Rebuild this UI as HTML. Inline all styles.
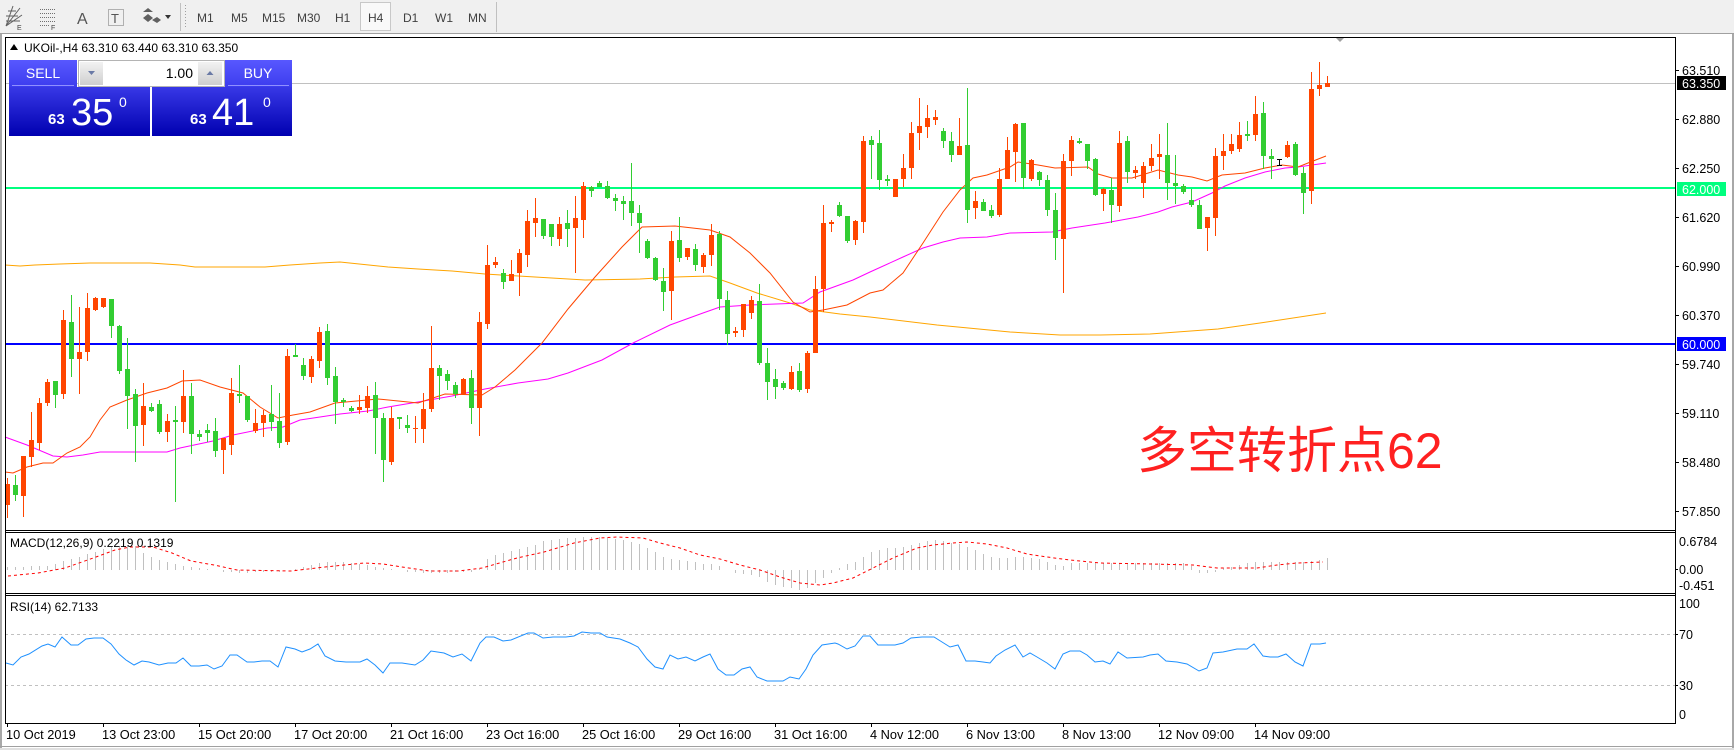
<!DOCTYPE html>
<html><head><meta charset="utf-8">
<style>
html,body{margin:0;padding:0;background:#fff;width:1734px;height:750px;overflow:hidden}
svg{display:block}
text{font-family:"Liberation Sans","Noto Sans CJK SC",sans-serif}
</style></head>
<body>
<svg width="1734" height="750" viewBox="0 0 1734 750" xmlns="http://www.w3.org/2000/svg">
<defs>
<linearGradient id="pb" x1="0" y1="0" x2="0" y2="1"><stop offset="0" stop-color="#3838e6"/><stop offset="1" stop-color="#0000b0"/></linearGradient>
<linearGradient id="tb" x1="0" y1="0" x2="0" y2="1"><stop offset="0" stop-color="#5858ff"/><stop offset="1" stop-color="#3c3cee"/></linearGradient>
<linearGradient id="sp" x1="0" y1="0" x2="0" y2="1"><stop offset="0" stop-color="#f2f2f2"/><stop offset="1" stop-color="#cfcfcf"/></linearGradient>
</defs>

<!-- toolbar -->
<rect x="0" y="0" width="1734" height="33" fill="#f0f0f0"/>
<rect x="0" y="33" width="1734" height="1" fill="#a0a0a0"/>
<g stroke="#606060" stroke-width="1" fill="none">
<path d="M6 26L20 8M6 26L22 15M6 26L13 6M6 21H20M6 16H18M8 11H16"/>
</g>
<text x="17" y="30" font-size="7" fill="#404040">E</text>
<g stroke="#707070" stroke-width="1" stroke-dasharray="1,1">
<path d="M40 9.5H56M40 13.5H56M40 17.5H56M40 21.5H56M40 25.5H50"/>
</g>
<text x="51" y="30" font-size="7" fill="#404040">F</text>
<text x="77" y="24" font-size="16" fill="#555">A</text>
<rect x="108.5" y="9.5" width="15" height="16" fill="none" stroke="#707070" stroke-dasharray="1,1"/>
<text x="111" y="23" font-size="13" fill="#555">T</text>
<path d="M143 12l5-4 5 4zM148 14l5 4-5 4-5-4zM152 20l5-3 4 3-4 3z" fill="#606060"/>
<path d="M165 15h6l-3 4z" fill="#333"/>
<rect x="180" y="3" width="1" height="28" fill="#c0c0c0"/>
<g fill="#a0a0a0"><rect x="185" y="5" width="1" height="1"/><rect x="185" y="8" width="1" height="1"/><rect x="185" y="11" width="1" height="1"/><rect x="185" y="14" width="1" height="1"/><rect x="185" y="17" width="1" height="1"/><rect x="185" y="20" width="1" height="1"/><rect x="185" y="23" width="1" height="1"/><rect x="185" y="26" width="1" height="1"/></g>
<rect x="360.5" y="2.5" width="30" height="28" fill="#f9f9f9" stroke="#c8c8c8"/>
<g font-size="12" fill="#404040">
<text x="197" y="22">M1</text><text x="231" y="22">M5</text><text x="262" y="22">M15</text><text x="297" y="22">M30</text><text x="335" y="22">H1</text><text x="368" y="22">H4</text><text x="403" y="22">D1</text><text x="435" y="22">W1</text><text x="468" y="22">MN</text>
</g>
<rect x="496" y="2" width="1" height="30" fill="#c0c0c0"/>

<!-- outer frame -->
<rect x="0" y="34" width="2" height="716" fill="#a8a8a8"/>
<rect x="1732" y="34" width="2" height="716" fill="#a8a8a8"/>
<rect x="0" y="746" width="1734" height="1" fill="#a0a0a0"/>
<rect x="0" y="748" width="1734" height="2" fill="#e0e0e0"/>

<!-- level lines -->
<rect x="5" y="83" width="1670" height="1" fill="#c0c0c0"/>
<rect x="5" y="187" width="1670" height="2" fill="#00ff7f"/>
<rect x="5" y="343" width="1670" height="2" fill="#0000ff"/>

<!-- MAs -->
<g fill="none" stroke-width="1">
<polyline stroke="#ffa500" points="5,265 20,266 35,265 60,264 90,263 150,263 180,265 195,267 265,267 290,265 320,263 340,262 388,267 418,269 452,271 485,274 535,277 585,280 640,279 675,277 710,276 730,283 757,293 790,303 810,310 840,314 870,317 937,325 1010,332 1060,335 1100,335 1150,334 1218,329 1260,323 1326,313"/>
<polyline stroke="#ff00ff" points="5,437 27,445 53,456 67,457 83,455 100,452 167,452 180,448 213,441 233,435 267,428 283,427 300,420 340,414 368,411 388,407 418,402 452,396 485,389 518,383 548,379 568,373 602,360 635,342 670,325 703,313 720,307 750,305 803,303 820,292 853,280 870,272 903,257 923,248 943,242 960,238 987,237 1010,233 1052,232 1072,228 1105,223 1138,217 1158,212 1172,207 1192,202 1212,193 1225,186 1245,178 1265,172 1285,168 1298,167 1312,165 1326,163"/>
<polyline stroke="#ff4500" points="5,472 13,473 27,467 43,463 53,463 67,453 80,447 90,437 100,420 110,407 127,400 147,393 167,388 182,381 200,380 220,387 243,393 260,407 278,418 293,415 310,412 335,403 378,399 418,403 445,394 482,395 495,387 515,370 542,343 568,309 595,277 622,247 642,227 675,226 710,230 730,237 750,253 770,273 793,302 810,312 823,310 847,305 870,293 883,290 903,273 923,243 943,212 960,190 973,178 987,175 1010,167 1018,162 1038,165 1055,168 1088,167 1098,174 1112,178 1132,178 1145,174 1158,170 1178,175 1192,177 1207,181 1222,175 1245,173 1265,168 1282,165 1298,167 1308,163 1326,156"/>
</g>

<!-- candle wicks -->
<path fill="none" stroke="#ff4500" stroke-width="1" d="M7.5 478V518M23.5 456V517M31.5 412V467M39.5 398V450M47.5 379V406M63.5 310V399M79.5 307V394M87.5 293V361M95.5 297V311M103.5 298V308M143.5 383V446M167.5 414V442M183.5 370V433M223.5 438V474M231.5 378V455M255.5 409V433M263.5 410V437M287.5 349V445M311.5 356V383M319.5 327V368M359.5 395V414M367.5 386V413M391.5 407V465M415.5 416V443M423.5 393V443M431.5 326V412M463.5 378V395M479.5 312V436M487.5 245V329M495.5 257V268M511.5 260V281M519.5 249V296M527.5 210V267M535.5 198V237M559.5 217V246M575.5 196V273M583.5 182V238M671.5 231V320M687.5 248V260M703.5 253V273M711.5 224V266M735.5 327V337M743.5 304V337M751.5 296V319M791.5 366V390M807.5 351V393M815.5 276V353M823.5 205V312M831.5 220V232M855.5 220V245M863.5 136V233M895.5 179V197M903.5 154V187M911.5 122V179M919.5 98V150M927.5 105V138M935.5 110V125M959.5 118V155M975.5 191V219M999.5 168V217M1007.5 137V179M1015.5 123V182M1031.5 159V181M1063.5 154V293M1071.5 136V176M1103.5 188V211M1119.5 131V212M1135.5 166V179M1143.5 162V198M1151.5 144V171M1159.5 134V179M1207.5 217V251M1215.5 148V236M1223.5 134V170M1231.5 134V154M1239.5 122V152M1255.5 96V141M1287.5 141V158M1311.5 72V204M1319.5 62V96M1327.5 76V87"/>
<path fill="none" stroke="#32cd32" stroke-width="1" d="M15.5 475V501M55.5 381V408M71.5 295V377M111.5 299V338M119.5 325V374M127.5 338V429M135.5 389V462M151.5 403V412M159.5 400V434M175.5 406V502M191.5 383V454M199.5 430V441M207.5 424V442M215.5 418V457M239.5 365V403M247.5 396V422M271.5 385V431M279.5 393V448M295.5 344V357M303.5 358V380M327.5 324V385M335.5 367V424M343.5 398V407M351.5 406V412M375.5 382V454M383.5 413V482M399.5 417V429M407.5 415V433M439.5 365V400M447.5 370V390M455.5 382V398M471.5 370V424M503.5 269V289M543.5 219V239M551.5 224V246M567.5 210V247M591.5 186V197M599.5 181V187M607.5 181V199M615.5 194V211M623.5 196V220M631.5 163V226M639.5 205V253M647.5 239V259M655.5 257V281M663.5 268V311M679.5 217V262M695.5 244V271M719.5 231V310M727.5 291V345M759.5 284V365M767.5 348V400M775.5 369V399M783.5 381V390M799.5 363V392M839.5 202V217M847.5 216V243M871.5 136V179M879.5 130V190M887.5 175V186M943.5 128V148M951.5 132V162M967.5 88V223M983.5 199V211M991.5 205V218M1023.5 123V189M1039.5 171V186M1047.5 175V216M1055.5 193V260M1079.5 138V144M1087.5 144V169M1095.5 158V196M1111.5 178V223M1127.5 136V183M1167.5 123V200M1175.5 155V204M1183.5 184V194M1191.5 189V207M1199.5 200V229M1247.5 121V141M1263.5 102V169M1271.5 149V179M1295.5 142V176M1303.5 167V214"/>
<!-- candle bodies -->
<path fill="#ff4500" d="M5 484h5v21h-5zM21 456h5v40h-5zM29 440h5v17h-5zM37 403h5v40h-5zM45 382h5v21h-5zM61 320h5v74h-5zM77 352h5v7h-5zM85 308h5v44h-5zM93 298h5v12h-5zM101 298h5v9h-5zM141 406h5v19h-5zM165 421h5v11h-5zM181 396h5v26h-5zM221 438h5v12h-5zM229 393h5v52h-5zM253 423h5v8h-5zM261 415h5v8h-5zM285 356h5v86h-5zM309 359h5v18h-5zM317 332h5v29h-5zM357 407h5v3h-5zM365 396h5v12h-5zM389 418h5v44h-5zM413 428h5v1h-5zM421 409h5v20h-5zM429 368h5v41h-5zM461 379h5v15h-5zM477 322h5v86h-5zM485 265h5v59h-5zM493 262h5v3h-5zM509 274h5v7h-5zM517 253h5v20h-5zM525 221h5v34h-5zM533 218h5v5h-5zM557 224h5v15h-5zM573 218h5v10h-5zM581 186h5v34h-5zM669 241h5v50h-5zM685 248h5v9h-5zM701 255h5v12h-5zM709 235h5v20h-5zM733 331h5v2h-5zM741 304h5v26h-5zM749 300h5v13h-5zM789 372h5v17h-5zM805 353h5v36h-5zM813 289h5v64h-5zM821 223h5v66h-5zM829 222h5v2h-5zM853 221h5v19h-5zM861 141h5v81h-5zM893 179h5v18h-5zM901 168h5v11h-5zM909 133h5v35h-5zM917 126h5v7h-5zM925 118h5v9h-5zM933 117h5v3h-5zM957 146h5v9h-5zM973 201h5v7h-5zM997 179h5v36h-5zM1005 150h5v29h-5zM1013 124h5v28h-5zM1029 160h5v19h-5zM1061 161h5v78h-5zM1069 140h5v21h-5zM1101 189h5v5h-5zM1117 143h5v63h-5zM1133 170h5v3h-5zM1141 166h5v17h-5zM1149 158h5v8h-5zM1157 154h5v3h-5zM1205 217h5v11h-5zM1213 156h5v62h-5zM1221 151h5v5h-5zM1229 144h5v7h-5zM1237 135h5v14h-5zM1253 114h5v21h-5zM1285 145h5v12h-5zM1309 89h5v102h-5zM1317 85h5v4h-5zM1325 83h5v4h-5z"/>
<path fill="#32cd32" d="M13 485h5v10h-5zM53 381h5v14h-5zM69 322h5v37h-5zM109 299h5v27h-5zM117 326h5v45h-5zM125 369h5v27h-5zM133 394h5v32h-5zM149 407h5v4h-5zM157 404h5v28h-5zM173 420h5v2h-5zM189 396h5v38h-5zM197 434h5v3h-5zM205 430h5v3h-5zM213 431h5v20h-5zM237 394h5v2h-5zM245 396h5v24h-5zM269 414h5v8h-5zM277 421h5v22h-5zM293 355h5v2h-5zM301 365h5v11h-5zM325 331h5v47h-5zM333 376h5v26h-5zM341 400h5v2h-5zM349 408h5v3h-5zM373 395h5v23h-5zM381 418h5v42h-5zM397 417h5v2h-5zM405 425h5v3h-5zM437 368h5v8h-5zM445 374h5v7h-5zM453 385h5v9h-5zM469 378h5v30h-5zM501 273h5v9h-5zM541 219h5v17h-5zM549 224h5v13h-5zM565 223h5v6h-5zM589 187h5v4h-5zM597 183h5v4h-5zM605 186h5v12h-5zM613 198h5v3h-5zM621 201h5v3h-5zM629 201h5v12h-5zM637 213h5v10h-5zM645 241h5v17h-5zM653 258h5v22h-5zM661 281h5v11h-5zM677 240h5v18h-5zM693 249h5v16h-5zM717 234h5v65h-5zM725 300h5v34h-5zM757 301h5v62h-5zM765 363h5v19h-5zM773 379h5v8h-5zM781 383h5v5h-5zM797 371h5v19h-5zM837 205h5v11h-5zM845 216h5v25h-5zM869 140h5v5h-5zM877 143h5v37h-5zM885 179h5v2h-5zM941 131h5v10h-5zM949 141h5v14h-5zM965 145h5v65h-5zM981 202h5v9h-5zM989 210h5v6h-5zM1021 123h5v55h-5zM1037 172h5v8h-5zM1045 180h5v30h-5zM1053 210h5v28h-5zM1077 141h5v2h-5zM1085 144h5v17h-5zM1093 159h5v36h-5zM1109 190h5v15h-5zM1125 141h5v31h-5zM1165 155h5v28h-5zM1173 183h5v3h-5zM1181 186h5v6h-5zM1189 200h5v5h-5zM1197 205h5v24h-5zM1245 134h5v2h-5zM1261 113h5v43h-5zM1269 156h5v3h-5zM1293 144h5v31h-5zM1301 173h5v20h-5z"/>
<!-- cursor -->
<path fill="none" stroke="#000" stroke-width="1" d="M1277 159.5h5M1279.5 159V166M1277 165.5h5"/>

<!-- shift marker -->
<path d="M1336 38h8l-4 4z" fill="#a0a0a0"/>

<!-- Chinese annotation -->
<text x="1137" y="468" font-size="50" fill="#ff2020">多空转折点62</text>

<!-- Header -->
<path d="M10 50l4-6 4 6z" fill="#000"/>
<text x="24" y="52" font-size="12" fill="#000">UKOil-,H4  63.310 63.440 63.310 63.350</text>

<!-- trade panel -->
<rect x="9" y="60" width="68" height="27" fill="url(#tb)"/>
<rect x="12" y="85" width="62" height="1" fill="#9090ff"/>
<text x="43" y="78" font-size="14" fill="#fff" text-anchor="middle">SELL</text>
<rect x="78.5" y="60.5" width="146" height="26" fill="#fff" stroke="#b4b4b4"/>
<rect x="80" y="62" width="23" height="23" fill="url(#sp)"/>
<path d="M88 71h7l-3.5 4z" fill="#6a7aa6"/>
<rect x="198" y="62" width="24" height="23" fill="url(#sp)"/>
<path d="M206.5 75h7l-3.5-4z" fill="#6a7aa6"/>
<text x="193" y="78" font-size="14" fill="#000" text-anchor="end">1.00</text>
<rect x="225" y="60" width="67" height="27" fill="url(#tb)"/>
<rect x="228" y="85" width="61" height="1" fill="#9090ff"/>
<text x="258" y="78" font-size="14" fill="#fff" text-anchor="middle">BUY</text>
<rect x="9" y="87" width="141" height="49" fill="url(#pb)"/>
<rect x="152" y="87" width="140" height="49" fill="url(#pb)"/>
<g fill="#fff">
<text x="48" y="124" font-size="15" font-weight="bold">63</text>
<text x="71" y="125" font-size="38">35</text>
<text x="119" y="107" font-size="14">0</text>
<text x="190" y="124" font-size="15" font-weight="bold">63</text>
<text x="212" y="125" font-size="38">41</text>
<text x="263" y="107" font-size="14">0</text>
</g>

<!-- MACD -->
<path fill="none" stroke="#c0c0c0" stroke-width="1" d="M7.5 570V567M15.5 570V567M23.5 570V567M31.5 570V566M39.5 570V566M47.5 570V566M55.5 570V564M63.5 570V561M71.5 570V559M79.5 570V557M87.5 570V554M95.5 570V552M103.5 570V549M111.5 570V547M119.5 570V546M127.5 570V545M135.5 570V546M143.5 570V553M151.5 570V557M159.5 570V560M167.5 570V562M175.5 570V564M183.5 570V566M191.5 570V567M199.5 570V568M207.5 570V569M223.5 570V572M231.5 570V572M239.5 570V573M247.5 570V573M255.5 570V572M263.5 570V572M271.5 570V572M279.5 570V572M295.5 570V569M303.5 570V567M311.5 570V565M319.5 570V563M327.5 570V562M335.5 570V562M343.5 570V562M351.5 570V563M359.5 570V564M367.5 570V565M375.5 570V567M383.5 570V568M391.5 570V569M407.5 570V572M415.5 570V572M423.5 570V573M431.5 570V573M439.5 570V573M447.5 570V573M455.5 570V572M463.5 570V572M471.5 570V572M479.5 570V569M487.5 570V559M495.5 570V555M503.5 570V553M511.5 570V551M519.5 570V549M527.5 570V547M535.5 570V545M543.5 570V541M551.5 570V540M559.5 570V539M567.5 570V538M575.5 570V538M583.5 570V537M591.5 570V537M599.5 570V537M607.5 570V538M615.5 570V539M623.5 570V540M631.5 570V542M639.5 570V544M647.5 570V548M655.5 570V552M663.5 570V557M671.5 570V559M679.5 570V560M687.5 570V561M695.5 570V562M703.5 570V564M711.5 570V564M719.5 570V566M735.5 570V573M743.5 570V574M751.5 570V575M759.5 570V577M767.5 570V582M775.5 570V585M783.5 570V587M791.5 570V588M799.5 570V590M807.5 570V588M815.5 570V583M823.5 570V578M831.5 570V573M839.5 570V568M847.5 570V564M855.5 570V562M863.5 570V557M871.5 570V552M879.5 570V550M887.5 570V548M895.5 570V548M903.5 570V547M911.5 570V545M919.5 570V543M927.5 570V541M935.5 570V540M943.5 570V541M951.5 570V543M959.5 570V544M967.5 570V547M975.5 570V550M983.5 570V554M991.5 570V557M999.5 570V558M1007.5 570V558M1015.5 570V557M1023.5 570V557M1031.5 570V558M1039.5 570V559M1047.5 570V562M1055.5 570V565M1063.5 570V566M1071.5 570V563M1079.5 570V563M1087.5 570V563M1095.5 570V563M1103.5 570V563M1111.5 570V563M1119.5 570V563M1127.5 570V563M1135.5 570V563M1143.5 570V563M1151.5 570V563M1159.5 570V563M1167.5 570V563M1175.5 570V563M1183.5 570V563M1191.5 570V566M1199.5 570V573M1207.5 570V573M1215.5 570V572M1223.5 570V568M1231.5 570V567M1239.5 570V565M1247.5 570V563M1255.5 570V562M1263.5 570V562M1271.5 570V562M1279.5 570V562M1287.5 570V562M1295.5 570V562M1303.5 570V562M1311.5 570V561M1319.5 570V560M1327.5 570V558"/>
<polyline fill="none" stroke="#ff0000" stroke-width="1" stroke-dasharray="3,3" points="8,576 38,573 65,568 96,557 115,550 130,547 153,547 172,553 191,561 214,565 237,570 291,571 325,567 364,563 383,564 402,567 429,571 459,571 482,568 517,558 544,552 574,543 600,538 617,537 643,538 660,543 680,548 700,555 720,559 740,565 760,570 780,577 800,583 820,585 833,583 853,578 873,568 893,558 917,548 933,545 953,543 967,542 987,544 1007,548 1027,554 1047,557 1070,560 1100,563 1150,564 1193,565 1217,568 1237,568 1257,568 1277,565 1297,563 1323,562"/>
<text x="10" y="547" font-size="12" fill="#000">MACD(12,26,9) 0.2219 0.1319</text>

<!-- RSI -->
<g stroke="#c0c0c0" stroke-width="1" stroke-dasharray="3,3"><path d="M5 634.5H1675M5 685.5H1675"/></g>
<polyline fill="none" stroke="#1e90ff" stroke-width="1" points="6,663 13,665 21,657 29,654 42,646 48,644 55,647 62,637 71,645 78,645 86,639 94,638 103,638 111,644 119,654 126,660 134,665 142,661 149,662 159,665 168,663 176,663 183,658 191,666 199,666 207,665 214,669 222,666 230,655 237,655 247,662 254,662 262,661 270,661 278,667 286,647 295,649 302,652 310,649 318,644 325,656 335,661 346,662 360,662 367,659 375,665 383,673 390,663 402,663 415,665 423,660 431,651 444,653 453,657 462,654 471,661 480,643 486,637 494,637 503,641 511,640 528,633 534,633 543,638 553,637 559,637 566,637 574,636 582,632 591,633 600,633 607,637 620,639 630,643 638,647 647,659 655,667 663,669 670,655 678,659 686,657 695,661 703,657 710,654 718,669 726,675 734,675 742,669 750,667 757,677 767,681 783,681 790,677 799,679 806,669 813,655 822,645 835,643 838,644 847,649 855,646 863,636 870,636 878,645 895,645 903,643 911,638 922,637 934,637 942,642 950,647 958,645 966,661 975,661 983,662 990,663 996,656 1005,650 1015,645 1023,657 1030,653 1037,657 1047,663 1055,669 1063,654 1070,651 1080,651 1087,655 1095,662 1103,661 1110,664 1118,652 1127,658 1143,657 1150,655 1158,654 1166,661 1177,662 1187,664 1199,671 1207,668 1213,653 1223,652 1237,649 1247,649 1254,644 1263,656 1270,657 1278,657 1286,654 1295,662 1303,666 1311,644 1320,644 1326,643"/>
<text x="10" y="611" font-size="12" fill="#000">RSI(14) 62.7133</text>

<!-- chart frames -->
<g fill="none" stroke="#000" stroke-width="1">
<path d="M5.5 37.5H1675.5V723.5H5.5Z"/>
<path d="M5 530.5H1675M5 532.5H1675M5 593.5H1675M5 595.5H1675"/>
</g>

<!-- right axis -->
<g stroke="#000" stroke-width="1">
<path d="M1675 70.5h4M1675 119.5h4M1675 168.5h4M1675 217.5h4M1675 266.5h4M1675 315.5h4M1675 364.5h4M1675 413.5h4M1675 462.5h4M1675 511.5h4M1675 569.5h3M1675 634.5h3M1675 685.5h3"/>
</g>
<g font-size="12.5" fill="#000">
<text x="1682" y="75">63.510</text>
<text x="1682" y="124">62.880</text>
<text x="1682" y="173">62.250</text>
<text x="1682" y="222">61.620</text>
<text x="1682" y="271">60.990</text>
<text x="1682" y="320">60.370</text>
<text x="1682" y="369">59.740</text>
<text x="1682" y="418">59.110</text>
<text x="1682" y="467">58.480</text>
<text x="1682" y="516">57.850</text>
<text x="1679" y="546">0.6784</text>
<text x="1679" y="574">0.00</text>
<text x="1679" y="590">-0.451</text>
<text x="1679" y="608">100</text>
<text x="1679" y="639">70</text>
<text x="1679" y="690">30</text>
<text x="1679" y="719">0</text>
</g>
<rect x="1677" y="76" width="49" height="14" fill="#000"/>
<rect x="1677" y="182" width="49" height="14" fill="#00ff7f"/>
<rect x="1677" y="337" width="49" height="14" fill="#0000ff"/>
<g font-size="12.5" fill="#fff">
<text x="1682" y="88">63.350</text>
<text x="1682" y="194">62.000</text>
<text x="1682" y="349">60.000</text>
</g>

<!-- time axis -->
<path stroke="#000" stroke-width="1" d="M7.5 723v4M103.5 723v4M199.5 723v4M295.5 723v4M391.5 723v4M487.5 723v4M583.5 723v4M679.5 723v4M775.5 723v4M871.5 723v4M967.5 723v4M1063.5 723v4M1159.5 723v4M1255.5 723v4"/>
<g font-size="12.8" fill="#000">
<text x="6" y="739">10 Oct 2019</text>
<text x="102" y="739">13 Oct 23:00</text>
<text x="198" y="739">15 Oct 20:00</text>
<text x="294" y="739">17 Oct 20:00</text>
<text x="390" y="739">21 Oct 16:00</text>
<text x="486" y="739">23 Oct 16:00</text>
<text x="582" y="739">25 Oct 16:00</text>
<text x="678" y="739">29 Oct 16:00</text>
<text x="774" y="739">31 Oct 16:00</text>
<text x="870" y="739">4 Nov 12:00</text>
<text x="966" y="739">6 Nov 13:00</text>
<text x="1062" y="739">8 Nov 13:00</text>
<text x="1158" y="739">12 Nov 09:00</text>
<text x="1254" y="739">14 Nov 09:00</text>
</g>
</svg>
</body></html>
